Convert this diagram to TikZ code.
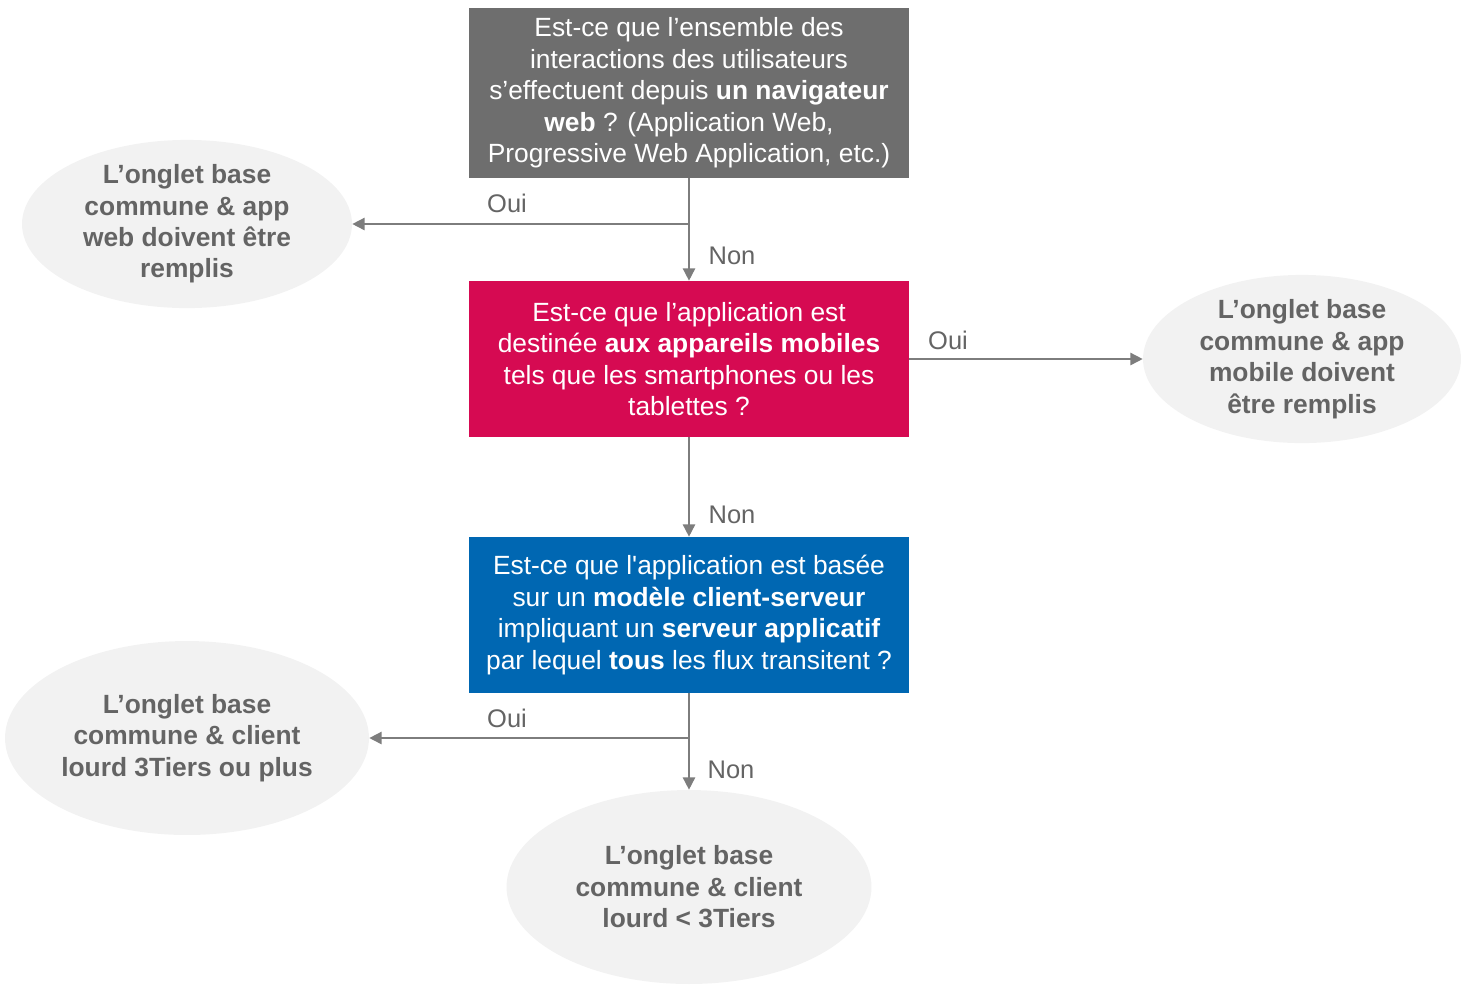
\documentclass[tikz,border=0pt]{standalone}
\usepackage{fontspec}
\setmainfont{Liberation Sans}
\usetikzlibrary{shapes.geometric,arrows.meta}
\definecolor{boxgray}{RGB}{110,110,110}
\definecolor{boxred}{RGB}{214,10,82}
\definecolor{boxblue}{RGB}{0,103,178}
\definecolor{ovalfill}{RGB}{242,242,242}
\definecolor{ovaltext}{RGB}{100,100,100}
\definecolor{linegray}{RGB}{125,125,125}
\begin{document}
\begin{tikzpicture}[x=0.02cm,y=-0.02cm,
  question/.style={rectangle,minimum width=8.8cm,inner sep=0pt,align=center,text=white,
    font=\fontsize{15}{17.9}\selectfont},
  answer/.style={ellipse,fill=ovalfill,inner sep=0pt,align=center,text=ovaltext,
    font=\fontsize{15}{17.9}\selectfont\bfseries},
  choice/.style={text=ovaltext,font=\fontsize{14.5}{17.9}\selectfont},
  link/.style={draw=linegray,line width=0.9pt,-{Triangle[length=7pt,width=7pt]}}]
\useasboundingbox (0,0) rectangle (1473,985);
\node[question,fill=boxgray,minimum height=3.4cm] (web) at (689,93)
  {Est-ce que l’ensemble des\\interactions des utilisateurs\\s’effectuent depuis \textbf{un navigateur}\\\textbf{web} ? (Application Web,\\Progressive Web Application, etc.)};
\node[question,fill=boxred,minimum height=3.12cm] (mobile) at (689,359)
  {Est-ce que l’application est\\destinée \textbf{aux appareils mobiles}\\tels que les smartphones ou les\\tablettes ?};
\node[question,fill=boxblue,minimum height=3.12cm] (serveur) at (689,615)
  {Est-ce que l\textquotesingle application est basée\\sur un \textbf{modèle client-serveur}\\impliquant un \textbf{serveur applicatif}\\par lequel \textbf{tous} les flux transitent ?};
\node[answer,minimum width=6.6cm,minimum height=3.04cm] (appweb) at (187,224)
  {L’onglet base\\commune \& app\\web doivent être\\remplis};
\node[answer,minimum width=6.36cm,minimum height=3.08cm] (appmobile) at (1302,359)
  {L’onglet base\\commune \& app\\mobile doivent\\être remplis};
\node[answer,minimum width=7.28cm,minimum height=3.88cm] (lourdplus) at (187,738)
  {L’onglet base\\commune \& client\\lourd 3Tiers ou plus};
\node[answer,minimum width=7.3cm,minimum height=3.88cm] (lourdmoins) at (689,887)
  {L’onglet base\\commune \& client\\lourd < 3Tiers};
\coordinate (split1) at (689,224);
\coordinate (split3) at (689,738);
\draw[link] (web) -- (mobile);
\draw[link] (split1) -- (appweb);
\draw[link] (mobile) -- (appmobile);
\draw[link] (mobile) -- (serveur);
\draw[link] (serveur) -- (lourdmoins);
\draw[link] (split3) -- (lourdplus);
\node[choice] (oui1) at (507,203) {Oui};
\node[choice] (non1) at (732,256) {Non};
\node[choice] (oui2) at (948,340) {Oui};
\node[choice] (non2) at (732,515) {Non};
\node[choice] (oui3) at (507,718) {Oui};
\node[choice] (non3) at (731,770) {Non};
\end{tikzpicture}
\end{document}
